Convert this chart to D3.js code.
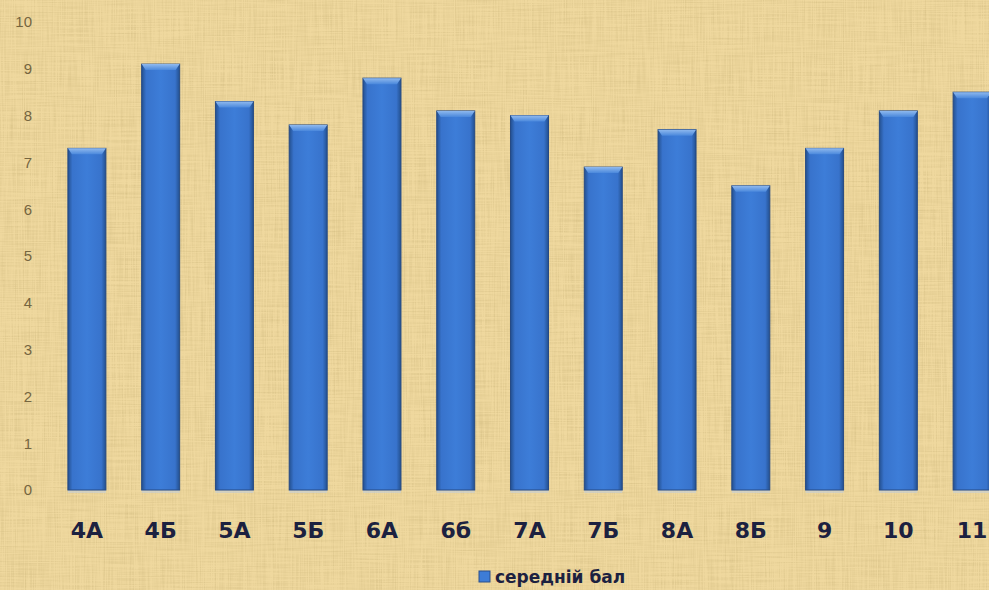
<!DOCTYPE html>
<html>
<head>
<meta charset="utf-8">
<script src="https://cdn.jsdelivr.net/npm/d3@7"></script>
<style>
  body { margin: 0; overflow: hidden; }
</style>
</head>
<body>
<div class="container"></div>
<script>
// data
const classes = ["4А", "4Б", "5А", "5Б", "6А", "6б", "7А", "7Б", "8А", "8Б", "9", "10", "11"];
const avgScore = [7.3, 9.1, 8.3, 7.8, 8.8, 8.1, 8.0, 6.9, 7.7, 6.5, 7.3, 8.1, 8.5];
const yTicks = [0, 1, 2, 3, 4, 5, 6, 7, 8, 9, 10];
const seriesName = "середній бал";

const w = 989;
const h = 590;

const svg = d3.select(".container")
  .append("svg")
  .attr("width", w)
  .attr("height", h);

const defs = svg.append("defs");

// papyrus-like background
const paper = defs.append("filter").attr("id", "paper")
  .attr("x", 0).attr("y", 0).attr("width", "100%").attr("height", "100%");
paper.append("feTurbulence")
  .attr("type", "fractalNoise")
  .attr("baseFrequency", "0.9 0.02")
  .attr("numOctaves", 2)
  .attr("seed", 3)
  .attr("result", "n1");
paper.append("feTurbulence")
  .attr("type", "fractalNoise")
  .attr("baseFrequency", "0.02 0.8")
  .attr("numOctaves", 2)
  .attr("seed", 7)
  .attr("result", "n2");
paper.append("feComposite")
  .attr("in", "n1").attr("in2", "n2")
  .attr("operator", "arithmetic")
  .attr("k2", 0.5).attr("k3", 0.5)
  .attr("result", "n");
paper.append("feColorMatrix")
  .attr("in", "n")
  .attr("type", "matrix")
  .attr("values", "0 0 0 0 0.62  0 0 0 0 0.48  0 0 0 0 0.2  -1.5 0 0 0 0.9")
  .attr("result", "tint");
paper.append("feComposite")
  .attr("in", "tint").attr("in2", "SourceGraphic")
  .attr("operator", "atop");

svg.append("rect")
  .attr("width", w).attr("height", h)
  .attr("fill", "#efd89e")
  .attr("filter", "url(#paper)");

// bar gradients
const side = defs.append("linearGradient").attr("id", "barSide")
  .attr("x1", 0).attr("x2", 1).attr("y1", 0).attr("y2", 0);
[["0%", "#24508f"], ["12%", "#3873cc"], ["50%", "#3d7dd8"], ["88%", "#3873cc"], ["100%", "#23508f"]]
  .forEach(s => side.append("stop").attr("offset", s[0]).attr("stop-color", s[1]));

const topG = defs.append("linearGradient").attr("id", "barTop")
  .attr("x1", 0).attr("x2", 0).attr("y1", 0).attr("y2", 1);
[["0%", "#8fb9ee"], ["100%", "#4a88dc"]]
  .forEach(s => topG.append("stop").attr("offset", s[0]).attr("stop-color", s[1]));

const xScale = d3.scaleBand()
  .domain(classes)
  .range([50, 1009])
  .paddingInner(0.485)
  .paddingOuter(0.2425);

const yScale = d3.scaleLinear()
  .domain([0, 10])
  .range([490, 22]);

// y axis labels only
const yAxis = d3.axisLeft(yScale)
  .tickValues(yTicks)
  .tickSize(0)
  .tickPadding(0);

svg.append("g")
  .attr("transform", "translate(32,0)")
  .call(yAxis)
  .call(g => g.select(".domain").remove())
  .selectAll("text")
  .attr("fill", "#75653f")
  .style("font-family", "'Liberation Sans', Arial, sans-serif")
  .style("font-size", "15px");

// x axis labels
const xAxis = d3.axisBottom(xScale).tickSize(0).tickPadding(0);
svg.append("g")
  .attr("transform", "translate(0,522)")
  .call(xAxis)
  .call(g => g.select(".domain").remove())
  .selectAll("text")
  .attr("fill", "#1c2140")
  .style("font-family", "'DejaVu Sans', sans-serif")
  .style("font-weight", "bold")
  .style("font-size", "22px");

// bars
const bars = svg.selectAll(".bar")
  .data(classes.map((c, i) => [c, avgScore[i]]))
  .enter()
  .append("g")
  .attr("class", "bar");

// soft light under the base
bars.append("rect")
  .attr("x", d => xScale(d[0]))
  .attr("y", yScale(0))
  .attr("width", xScale.bandwidth())
  .attr("height", 3)
  .attr("fill", "#c9cfd0")
  .attr("opacity", 0.7);

bars.append("rect")
  .attr("x", d => xScale(d[0]))
  .attr("y", d => yScale(d[1]))
  .attr("width", xScale.bandwidth())
  .attr("height", d => yScale(0) - yScale(d[1]))
  .attr("fill", "url(#barSide)")
  .attr("stroke", "#264a84")
  .attr("stroke-width", 1);

bars.append("path")
  .attr("d", d => {
    const x0 = xScale(d[0]);
    const x1 = x0 + xScale.bandwidth();
    const y0 = yScale(d[1]);
    return "M" + x0 + "," + y0 + "L" + x1 + "," + y0 +
      "L" + (x1 - 4) + "," + (y0 + 6) + "L" + (x0 + 4) + "," + (y0 + 6) + "Z";
  })
  .attr("fill", "url(#barTop)");

// legend
const legend = svg.append("g").attr("id", "legend");
legend.append("rect")
  .attr("x", 479)
  .attr("y", 571)
  .attr("width", 11)
  .attr("height", 11)
  .attr("fill", "#3d7cd6")
  .attr("stroke", "#2a4f8c");
legend.append("text")
  .text(seriesName)
  .attr("x", 495)
  .attr("y", 583)
  .attr("fill", "#1c2140")
  .style("font-family", "'DejaVu Sans', sans-serif")
  .style("font-weight", "bold")
  .style("font-size", "17px");
</script>
</body>
</html>
